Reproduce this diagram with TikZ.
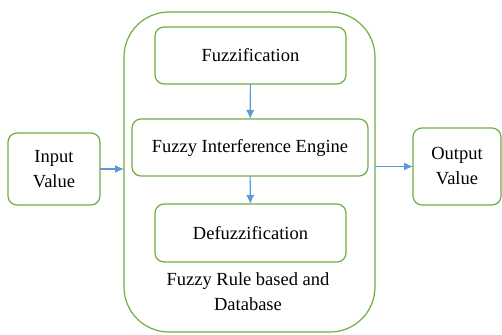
\documentclass[tikz,border=0pt]{standalone}
\usepackage{fontspec}
\setmainfont{Liberation Serif}
\usetikzlibrary{arrows.meta}
\definecolor{boxgreen}{RGB}{112,173,71}
\definecolor{arrowblue}{RGB}{91,155,213}

\begin{document}
\begin{tikzpicture}[x=1pt,y=-1pt,
  every node/.style={font=\fontsize{18.5}{25}\selectfont, align=center, inner sep=0pt, outer sep=0pt},
  stagebox/.style={draw=boxgreen, line width=1.2pt, rounded corners=9pt},
  flow/.style={draw=arrowblue, line width=1.1pt, -{Latex[length=9pt,width=8pt]}}]
\useasboundingbox (0,0) rectangle (502,334);

\node[stagebox, rounded corners=45pt, minimum width=251pt, minimum height=320pt] (engine) at (249.5,172) {};
\node[stagebox, minimum width=92pt, minimum height=72pt] (input) at (54,169) {Input\\Value};
\node[stagebox, minimum width=88pt, minimum height=77pt] (output) at (457,166.5) {Output\\Value};

\node[stagebox, minimum width=191pt, minimum height=57pt] (fuzz) at (250.5,55.5) {Fuzzification};
\node[stagebox, minimum width=236pt, minimum height=57pt] (infer) at (250,147.5) {Fuzzy Interference Engine};
\node[stagebox, minimum width=191pt, minimum height=58pt] (defuzz) at (250.5,233) {Defuzzification};
\node (rules) at (248,292) {Fuzzy Rule based and\\Database};

\draw[flow] (fuzz) -- (infer);
\draw[flow] (infer) -- (defuzz);
\draw[flow] (input.east) -- (engine.west |- input.east);
\draw[flow] (engine.east |- output.west) -- (output.west);
\end{tikzpicture}
\end{document}
